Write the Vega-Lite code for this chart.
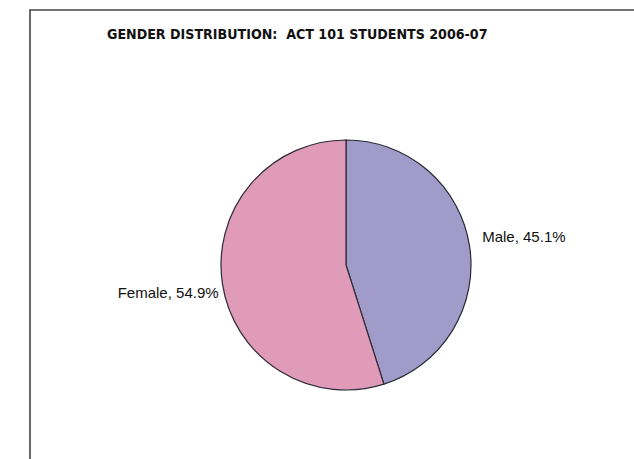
{
  "$schema": "https://vega.github.io/schema/vega-lite/v6.json",
  "autosize": {"type": "none"},
  "width": 632,
  "height": 510,
  "padding": {"left": 30, "top": 10, "right": -28, "bottom": -61},
  "background": "white",
  "view": {"stroke": "#444444", "strokeWidth": 1.6},
  "title": {
    "text": "GENDER DISTRIBUTION:\u00a0 ACT 101 STUDENTS 2006-07",
    "anchor": "start",
    "orient": "top",
    "offset": -32,
    "dx": 77,
    "font": "Liberation Sans Narrow, DejaVu Sans Condensed, Liberation Sans, sans-serif",
    "fontSize": 14.1,
    "fontWeight": "bold",
    "color": "#111111"
  },
  "data": {
    "values": [
      {"gender": "Male", "pct": 45.1, "label": "Male, 45.1%", "order": 1},
      {"gender": "Female", "pct": 54.9, "label": "Female, 54.9%", "order": 2}
    ]
  },
  "encoding": {
    "theta": {"field": "pct", "type": "quantitative", "stack": true},
    "order": {"field": "order", "type": "quantitative"}
  },
  "layer": [
    {
      "mark": {"type": "arc", "outerRadius": 125, "stroke": "#2a2a35", "strokeWidth": 1.2},
      "encoding": {
        "color": {
          "field": "gender",
          "type": "nominal",
          "scale": {"domain": ["Male", "Female"], "range": ["#a09bc9", "#e09bb9"]},
          "legend": null
        }
      }
    },
    {
      "mark": {"type": "text", "radius": 180, "align": "center", "baseline": "middle", "font": "Liberation Sans, Arial, sans-serif", "fontSize": 15, "color": "#111111"},
      "encoding": {"text": {"field": "label"}}
    }
  ]
}
